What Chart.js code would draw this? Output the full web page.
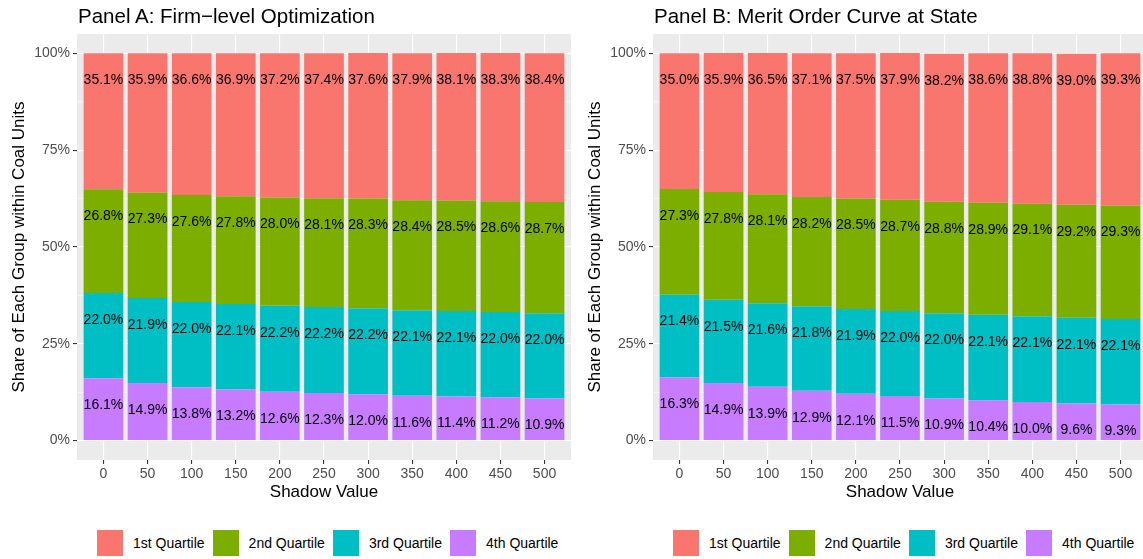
<!DOCTYPE html>
<html>
<head>
<meta charset="utf-8">
<script src="https://cdn.jsdelivr.net/npm/chart.js@4.4.0/dist/chart.umd.min.js"></script>
<style>
  body { margin: 0; width: 1143px; height: 559px; overflow: hidden; background: #fff; position: relative;
         font-family: "Liberation Sans", Arial, sans-serif; }
  .panel { position: absolute; top: 0; width: 571px; height: 505px; }
  .title { position: absolute; top: 4px; font-size: 20.5px; line-height: 24px; color: #000; white-space: nowrap; }
  .legend { position: absolute; top: 530px; display: flex; align-items: center; font-size: 14px; color: #000; }
  .key { width: 26px; height: 26px; margin-right: 10px; }
  .lab { margin-right: 8px; white-space: nowrap; }
</style>
</head>
<body>
<div class="panel" style="left:0"><canvas id="chartA" width="571" height="505"></canvas></div>
<div class="panel" style="left:576px"><canvas id="chartB" width="571" height="505"></canvas></div>
<div class="title" style="left:78px">Panel A: Firm−level Optimization</div>
<div class="title" style="left:654px">Panel B: Merit Order Curve at State</div>
<div class="legend" id="legendA" style="left:97px"></div>
<div class="legend" id="legendB" style="left:673px"></div>
<script>
const shadowValues = [0, 50, 100, 150, 200, 250, 300, 350, 400, 450, 500];
const quartileNames = ['1st Quartile', '2nd Quartile', '3rd Quartile', '4th Quartile'];
const quartileColors = ['#F8766D', '#7CAE00', '#00BFC4', '#C77CFF'];
const yTickLabels = [0, 25, 50, 75, 100];

// Panel A: firm-level optimization (percent)
const panelA_q1 = [35.1, 35.9, 36.6, 36.9, 37.2, 37.4, 37.6, 37.9, 38.1, 38.3, 38.4];
const panelA_q2 = [26.8, 27.3, 27.6, 27.8, 28.0, 28.1, 28.3, 28.4, 28.5, 28.6, 28.7];
const panelA_q3 = [22.0, 21.9, 22.0, 22.1, 22.2, 22.2, 22.2, 22.1, 22.1, 22.0, 22.0];
const panelA_q4 = [16.1, 14.9, 13.8, 13.2, 12.6, 12.3, 12.0, 11.6, 11.4, 11.2, 10.9];

// Panel B: merit order curve at state (percent)
const panelB_q1 = [35.0, 35.9, 36.5, 37.1, 37.5, 37.9, 38.2, 38.6, 38.8, 39.0, 39.3];
const panelB_q2 = [27.3, 27.8, 28.1, 28.2, 28.5, 28.7, 28.8, 28.9, 29.1, 29.2, 29.3];
const panelB_q3 = [21.4, 21.5, 21.6, 21.8, 21.9, 22.0, 22.0, 22.1, 22.1, 22.1, 22.1];
const panelB_q4 = [16.3, 14.9, 13.9, 12.9, 12.1, 11.5, 10.9, 10.4, 10.0, 9.6, 9.3];

const FONT = '"Liberation Sans", Arial, sans-serif';

const panelBg = {
  id: 'panelBg',
  beforeDraw(chart) {
    const a = chart.chartArea, ctx = chart.ctx;
    ctx.save();
    ctx.fillStyle = '#EBEBEB';
    ctx.fillRect(a.left, a.top, a.right - a.left, a.bottom - a.top);
    ctx.restore();
  }
};

// value labels, a fixed distance under the top of each segment
const barLabels = {
  id: 'barLabels',
  afterDatasetsDraw(chart) {
    const ctx = chart.ctx;
    ctx.save();
    ctx.font = '14px ' + FONT;
    ctx.fillStyle = '#000';
    ctx.textAlign = 'center';
    ctx.textBaseline = 'middle';
    chart.data.datasets.forEach((ds, i) => {
      chart.getDatasetMeta(i).data.forEach((el, j) => {
        ctx.fillText(ds.data[j].y.toFixed(1) + '%', el.x, el.y + 27);
      });
    });
    ctx.restore();
  }
};

function makeChart(id, series) {
  // bottom of the stack first: 4th quartile ... 1st quartile
  const datasets = [3, 2, 1, 0].map(q => ({
    label: quartileNames[q],
    data: series[q].map((v, i) => ({ x: shadowValues[i], y: v })),
    backgroundColor: quartileColors[q],
    borderWidth: 0,
    barPercentage: 0.9,
    categoryPercentage: 1.0
  }));
  return new Chart(document.getElementById(id), {
    type: 'bar',
    data: { datasets: datasets },
    plugins: [panelBg, barLabels],
    options: {
      responsive: false,
      animation: false,
      layout: { padding: { top: 34, left: 0, right: 0, bottom: 0 } },
      plugins: { legend: { display: false }, tooltip: { enabled: false } },
      scales: {
        x: {
          type: 'linear', stacked: true, min: -30, max: 530, offset: false,
          afterFit(s) { s.height = 45; },
          border: { display: false },
          grid: { offset: false, color: '#FFFFFF', lineWidth: 1.1, tickLength: 4, tickColor: '#333333' },
          ticks: { stepSize: 50, includeBounds: false, padding: 2, color: '#4D4D4D',
                   font: { size: 14, family: FONT } },
          title: { display: true, text: 'Shadow Value', color: '#000', padding: { top: 0, bottom: 2 },
                   font: { size: 17, family: FONT } }
        },
        y: {
          stacked: true, min: -5, max: 105,
          afterFit(s) { s.width = 77; },
          border: { display: false },
          grid: {
            color: '#FFFFFF',
            lineWidth: c => (yTickLabels.includes(c.tick.value) ? 1.1 : 0.5),
            tickLength: 4,
            tickColor: c => (yTickLabels.includes(c.tick.value) ? '#333333' : 'rgba(0,0,0,0)')
          },
          ticks: {
            stepSize: 12.5, includeBounds: false, padding: 3, color: '#4D4D4D',
            font: { size: 14, family: FONT },
            callback: v => (yTickLabels.includes(v) ? v + '%' : '')
          },
          title: { display: true, text: 'Share of Each Group within Coal Units', color: '#000',
                   padding: { top: 9, bottom: 0 }, font: { size: 17, family: FONT } }
        }
      }
    }
  });
}

function makeLegend(id) {
  const el = document.getElementById(id);
  quartileNames.forEach((name, q) => {
    const key = document.createElement('div');
    key.className = 'key';
    key.style.background = quartileColors[q];
    const lab = document.createElement('div');
    lab.className = 'lab';
    lab.textContent = name;
    el.appendChild(key);
    el.appendChild(lab);
  });
}

makeChart('chartA', [panelA_q1, panelA_q2, panelA_q3, panelA_q4]);
makeChart('chartB', [panelB_q1, panelB_q2, panelB_q3, panelB_q4]);
makeLegend('legendA');
makeLegend('legendB');
</script>
</body>
</html>
